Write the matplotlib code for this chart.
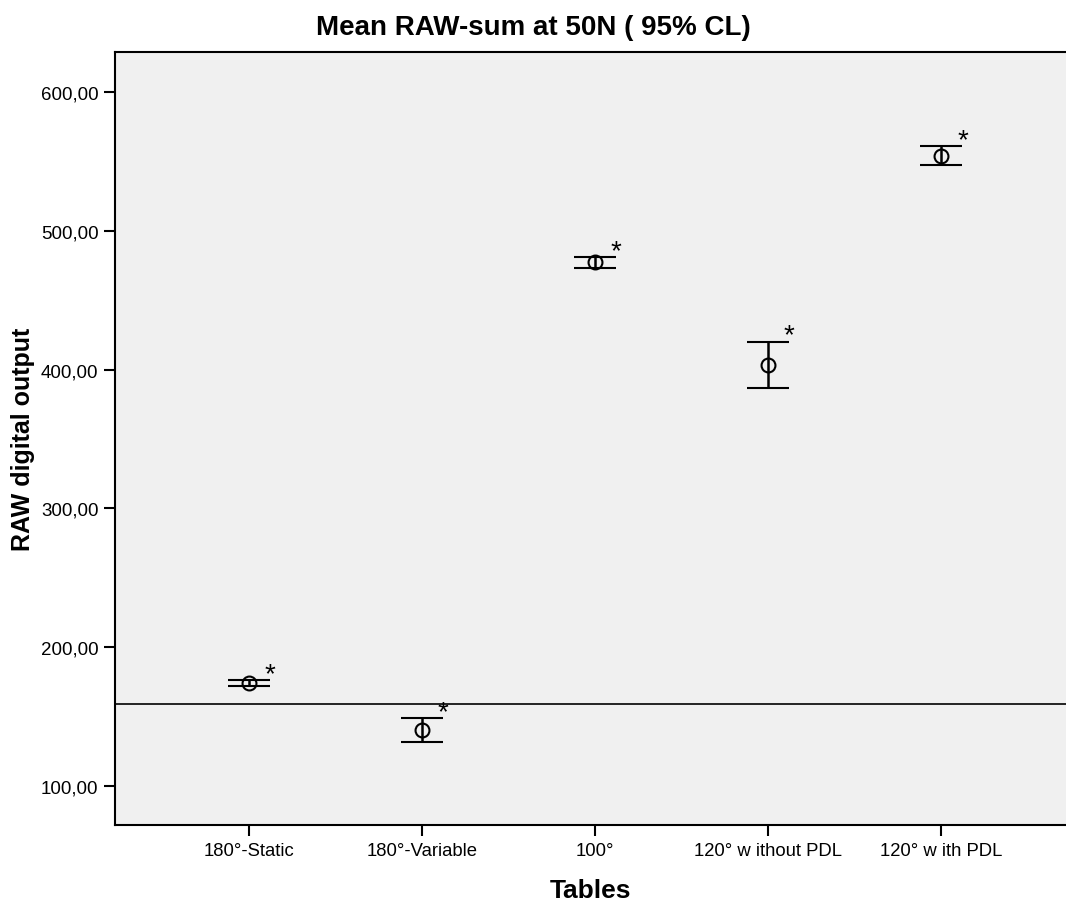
import matplotlib.pyplot as plt
import numpy as np

# données
tables = ["180°-Static", "180°-Variable", "100°", "120° w ithout PDL", "120° w ith PDL"]
mean = [174.1, 140.2, 477.7, 403.6, 553.9]
upper = [176.3, 148.8, 481.3, 420.2, 561.1]
lower = [171.9, 131.6, 473.0, 387.0, 547.6]
ref_line = 158.9

plt.rcParams['font.family'] = ['Liberation Sans', 'DejaVu Sans']

fig = plt.figure(figsize=(10.66, 9.04), dpi=100)
ax = fig.add_axes([0.108, 0.0863, 0.892, 0.8551])
ax.set_facecolor("#f0f0f0")

x = np.arange(len(tables))
mean = np.array(mean)
err = [mean - np.array(lower), np.array(upper) - mean]
ax.errorbar(x, mean, yerr=err, fmt='o', mfc='none', mec='black', ms=10, mew=1.5,
            ecolor='black', elinewidth=1.8, capsize=15, capthick=2, color='black')

# étoiles de significativité
for xi, up in zip(x, upper):
    ax.annotate("*", (xi, up), xytext=(21, -1), textcoords='offset pixels',
                fontsize=20, ha='center', va='baseline')

ax.axhline(ref_line, color='black', lw=1.2)

ax.set_xlim(-0.775, 4.72)
ax.set_ylim(71.9, 628.8)
ax.set_xticks(x)
ax.set_xticklabels(tables, fontsize=13.3)
ax.set_yticks([100, 200, 300, 400, 500, 600])
ax.set_yticklabels(["100,00", "200,00", "300,00", "400,00", "500,00", "600,00"],
                   fontsize=13.5)
ax.tick_params(direction='out', length=8, width=1.5, pad=4)

for s in ['left', 'bottom', 'top']:
    ax.spines[s].set_linewidth(1.5)
ax.spines['right'].set_visible(False)

ax.set_xlabel("Tables", fontsize=19, fontweight='bold', labelpad=14)
ax.set_ylabel("RAW digital output", fontsize=18, fontweight='bold', labelpad=4)
fig.text(0.5, 0.969, "Mean RAW-sum at 50N ( 95% CL)", ha='center', va='center',
         fontsize=20, fontweight='bold')

plt.savefig("out.png")
